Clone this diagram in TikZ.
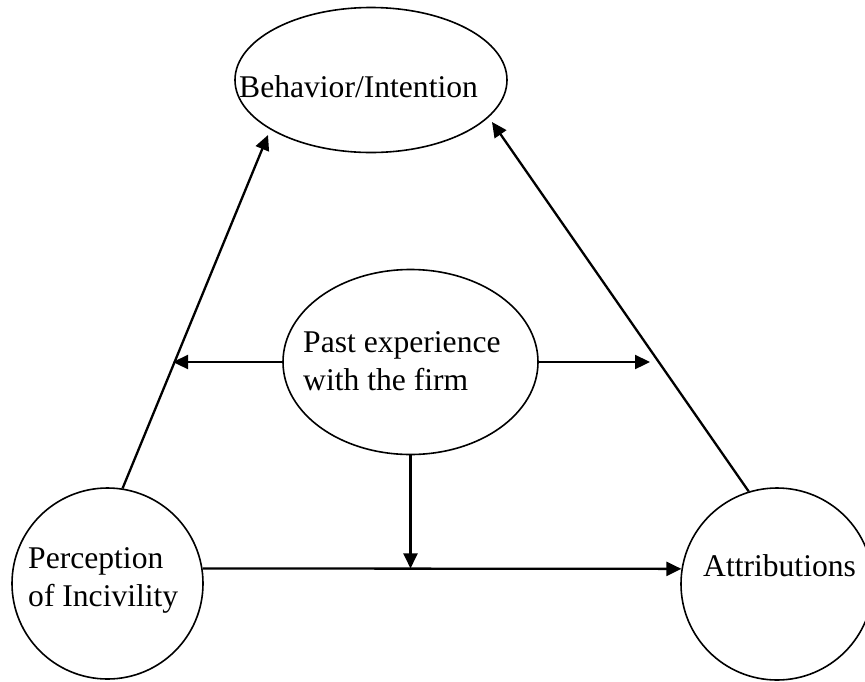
\documentclass[tikz,border=0pt]{standalone}
\usepackage{fontspec}
\setmainfont{Liberation Serif}
\usetikzlibrary{shapes.geometric,arrows.meta,calc}
\begin{document}
\begin{tikzpicture}[x=1pt,y=-1pt,
  shapeline/.style={draw, line width=1.6pt, inner sep=0pt},
  oval/.style={shapeline, ellipse},
  disc/.style={shapeline, circle},
  conn/.style={line width=2.3pt, -{Triangle[length=15pt,width=14pt]}},
  lbl/.style={font=\fontsize{31.6}{38}\selectfont, inner sep=0pt, anchor=base west, align=left}]
\useasboundingbox (0,0) rectangle (865,681);
\fill[white] (0,0) rectangle (865,681);
\node[oval, minimum width=272pt, minimum height=145pt] (T) at (371,80) {};
\node[oval, minimum width=255pt, minimum height=185pt] (M) at (410.5,362) {};
\node[disc, minimum size=191pt] (L) at (107.5,583.5) {};
\node[disc, minimum size=192pt] (R) at (777,584) {};
\node[lbl] (Ttext) at (239,97) {Behavior/Intention};
\node[lbl] (Mtext) at (303,390) {Past experience\\with the firm};
\node[lbl] (Ltext) at (28,606) {Perception\\of Incivility};
\node[lbl] (Rtext) at (703,576) {Attributions};
\coordinate (tipTL) at (268,135);
\coordinate (tipTR) at (492,122);
\coordinate (tipML) at (173,361);
\coordinate (tipMR) at (650,361);
\draw[conn] (L.81) -- (tipTL);
\draw[conn] (R.107) -- (tipTR);
\draw[conn] (M.west) -- (tipML |- M.west);
\draw[conn] (M.east) -- (tipMR |- M.east);
\draw[conn] (L.9) -- (R.171);
\draw[conn] (M.south) -- (M.south |- L.9);
\end{tikzpicture}
\end{document}
